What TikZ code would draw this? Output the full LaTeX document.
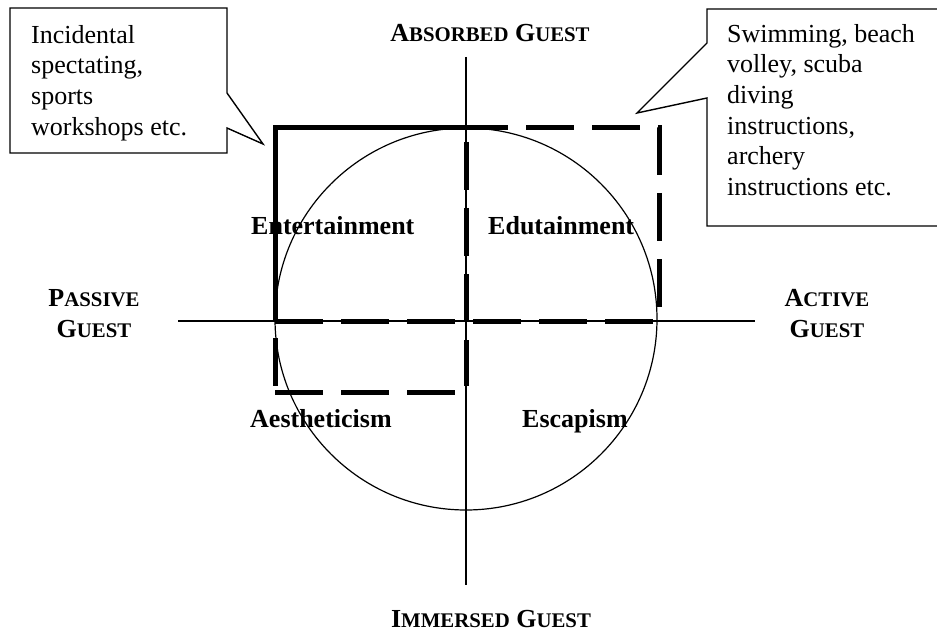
\documentclass[tikz,border=0pt]{standalone}
\usepackage{fontspec}
\setmainfont{Liberation Serif}
\newcommand{\lowcap}[1]{{\fontsize{20.8}{24}\selectfont #1}}
\begin{document}
\begin{tikzpicture}[x=1pt,y=-1pt,
  axis/.style={line width=1.4pt},
  ring/.style={line width=1.2pt},
  boldline/.style={line width=5pt, line join=miter},
  dashbold/.style={line width=5pt, dash pattern=on 48pt off 18pt},
  callout/.style={line width=1.4pt, fill=white, line join=miter},
  bodytext/.style={font=\fontsize{26}{30.6}\selectfont, inner sep=0pt, align=left, anchor=north west},
  quad/.style={font=\bfseries\fontsize{26}{30}\selectfont, inner sep=0pt, anchor=base west},
  pole/.style={font=\bfseries\fontsize{26}{31}\selectfont, inner sep=0pt, anchor=base}]
\useasboundingbox (0,0) rectangle (937,631);

% axes
\coordinate (west) at (178,321);
\coordinate (east) at (755,321);
\coordinate (north) at (466,57);
\coordinate (south) at (466,585);
\draw[axis] (west) -- (east);
\draw[axis] (north) -- (south);

% circle
\coordinate (centre) at (466,319);
\draw[ring] (centre) circle[radius=191];

% thick dashed rectangles
\coordinate (tl) at (275,128);
\coordinate (tm) at (466,128);
\coordinate (tr) at (659,128);
\coordinate (ml) at (275,321);
\coordinate (mr) at (659,321);
\coordinate (bl) at (275,392);
\coordinate (bm) at (466,392);
\coordinate (bmend) at (466,386);
\draw[boldline] (ml) -- (tl) -- (tm);
\draw[dashbold, dash phase=6pt] (tm) -- (tr) -- (mr);
\draw[dashbold] (ml) -- (mr);
\draw[dashbold, dash phase=52pt] (tm) -- (bmend);
\draw[dashbold, dash phase=49pt] (ml) -- (bl);
\draw[dashbold] (bl) -- (bm);

% callouts
\draw[callout] (10,8) -- (227,8) -- (227,93) -- (263,144) -- (227,128) -- (227,153) -- (10,153) -- cycle;
\node[bodytext] (lefttext) at (31,25) {Incidental\\spectating,\\sports\\workshops etc.};
\draw[callout] (945,9) -- (707,9) -- (707,43) -- (637,113) -- (707,98) -- (707,226) -- (945,226);
\node[bodytext] (righttext) at (727,24) {Swimming, beach\\volley, scuba\\diving\\instructions,\\archery\\instructions etc.};

% pole labels
\node[pole] (absorbed) at (490,42) {A\lowcap{BSORBED} G\lowcap{UEST}};
\node[pole] (immersed) at (491,627) {I\lowcap{MMERSED} G\lowcap{UEST}};
\node[pole] (passive1) at (94,306) {P\lowcap{ASSIVE}};
\node[pole] (passive2) at (94,337) {G\lowcap{UEST}};
\node[pole] (active1) at (827,306) {A\lowcap{CTIVE}};
\node[pole] (active2) at (827,337) {G\lowcap{UEST}};

% quadrant labels
\node[quad] (entertainment) at (251,235) {Entertainment};
\node[quad] (edutainment) at (488,235) {Edutainment};
\node[quad] (aestheticism) at (250,427) {Aestheticism};
\node[quad] (escapism) at (522,427) {Escapism};
\end{tikzpicture}
\end{document}
